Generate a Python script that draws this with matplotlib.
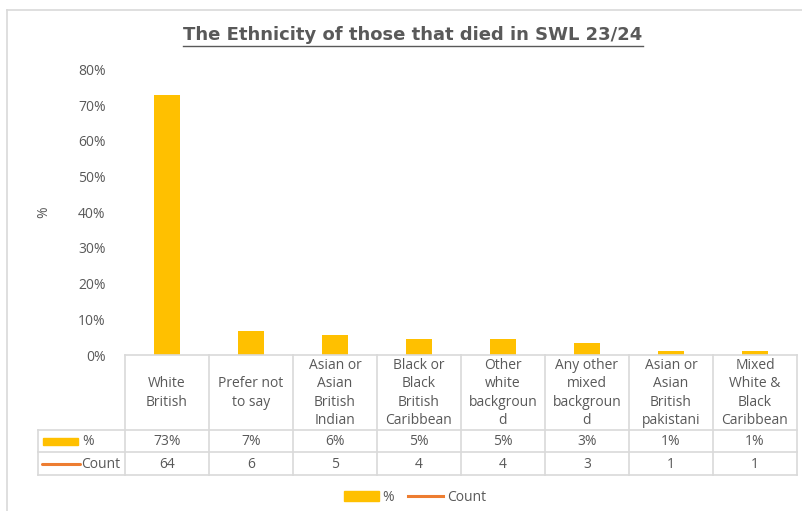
import matplotlib
matplotlib.use("Agg")
import matplotlib.pyplot as plt
from matplotlib.patches import Rectangle, Patch
from matplotlib.lines import Line2D
from matplotlib import transforms

# deaths by ethnicity, SWL 23/24
categories = ["White\nBritish", "Prefer not\nto say", "Asian or\nAsian\nBritish\nIndian",
              "Black or\nBlack\nBritish\nCaribbean", "Other\nwhite\nbackgroun\nd",
              "Any other\nmixed\nbackgroun\nd", "Asian or\nAsian\nBritish\npakistani",
              "Mixed\nWhite &\nBlack\nCaribbean"]
pct = [72.73, 6.82, 5.68, 4.55, 4.55, 3.41, 1.14, 1.14]
counts = [64, 6, 5, 4, 4, 3, 1, 1]
yticks = [0, 10, 20, 30, 40, 50, 60, 70, 80]

W, H = 803, 511
BAR = "#FFC000"
LINE = "#ED7D31"
TXT = "#595959"
GRID = "#D9D9D9"
FONT = "Open Sans"
FS = 10

def X(px):
    return px / W

def Y(py):
    return 1 - py / H

fig = plt.figure(figsize=(W / 100, H / 100), dpi=100)
plt.rcParams["font.family"] = [FONT, "DejaVu Sans"]

# outer chart frame (top and left only)
fig.add_artist(Line2D([X(7.5), X(803)], [Y(10.5), Y(10.5)], color=GRID, lw=1.2, transform=fig.transFigure))
fig.add_artist(Line2D([X(7.5), X(7.5)], [Y(10.5), Y(511)], color=GRID, lw=1.2, transform=fig.transFigure))

ax = fig.add_axes([X(125), Y(355), X(797) - X(125), Y(69.3) - Y(355)])
x = list(range(len(categories)))
ax.bar(x, pct, width=0.31, color=BAR, zorder=2)
ax.set_xlim(-0.5, len(categories) - 0.5)
ax.set_ylim(0, 80)
ax.set_yticks(yticks)
ax.set_yticklabels(["%d%%" % t for t in yticks], color=TXT, fontsize=FS)
ax.tick_params(axis="y", length=0, pad=14)
ax.set_xticks([])
for s in ax.spines.values():
    s.set_visible(False)
ax.set_ylabel("%", color=TXT, fontsize=FS)
ax.yaxis.set_label_coords((51 - 125) / 672.0, 0.5)

# data table under the bars
bt = transforms.blended_transform_factory(ax.transData, fig.transFigure)
left = -0.5 - 87 / 84.0
n = len(categories)
ln = dict(color=GRID, lw=1.2, transform=bt, clip_on=False)
fig.add_artist(Line2D([-0.5, n - 0.5], [Y(355), Y(355)], **ln))
for py in (430, 452, 475):
    fig.add_artist(Line2D([left, n - 0.5], [Y(py), Y(py)], **ln))
for i in range(n + 1):
    fig.add_artist(Line2D([i - 0.5, i - 0.5], [Y(355), Y(475)], **ln))
fig.add_artist(Line2D([left, left], [Y(430), Y(475)], **ln))

for i, cat in enumerate(categories):
    fig.text(i, Y(393), cat, transform=bt, ha="center", va="center",
             color=TXT, fontsize=FS, linespacing=1.3)
    fig.text(i, Y(441.5), "%.0f%%" % pct[i], transform=bt, ha="center", va="center",
             color=TXT, fontsize=FS)
    fig.text(i, Y(464), str(counts[i]), transform=bt, ha="center", va="center",
             color=TXT, fontsize=FS)

# legend keys inside the table
fig.add_artist(Rectangle((X(43), Y(445)), X(78) - X(43), Y(438) - Y(445), color=BAR,
                         transform=fig.transFigure))
fig.text(X(82), Y(441.5), "%", ha="left", va="center", color=TXT, fontsize=FS)
fig.add_artist(Line2D([X(42), X(80)], [Y(463.5), Y(463.5)], color=LINE, lw=2.2,
                      solid_capstyle="round", transform=fig.transFigure))
fig.text(X(81), Y(464), "Count", ha="left", va="center", color=TXT, fontsize=FS)

# title, underlined
title = fig.text(X(413), Y(35), "The Ethnicity of those that died in SWL 23/24",
                 ha="center", va="center", color=TXT, fontsize=13, fontweight="bold",
                 family=["DejaVu Sans"])
fig.canvas.draw()
bb = title.get_window_extent()
inv = fig.transFigure.inverted()
(x0, y0), (x1, _) = inv.transform([[bb.x0, bb.y0], [bb.x1, bb.y1]])
fig.add_artist(Line2D([x0, x1], [y0 - 0.003, y0 - 0.003], color=TXT, lw=1.0,
                      transform=fig.transFigure))

handles = [Patch(color=BAR, label="%"), Line2D([], [], color=LINE, lw=2.2, label="Count")]
fig.legend(handles=handles, loc="center", bbox_to_anchor=(X(415), Y(497)), ncol=2,
           frameon=False, fontsize=FS, labelcolor=TXT, handlelength=2.5,
           columnspacing=1.0, handletextpad=0.3)

fig.savefig("out.png", dpi=100)
